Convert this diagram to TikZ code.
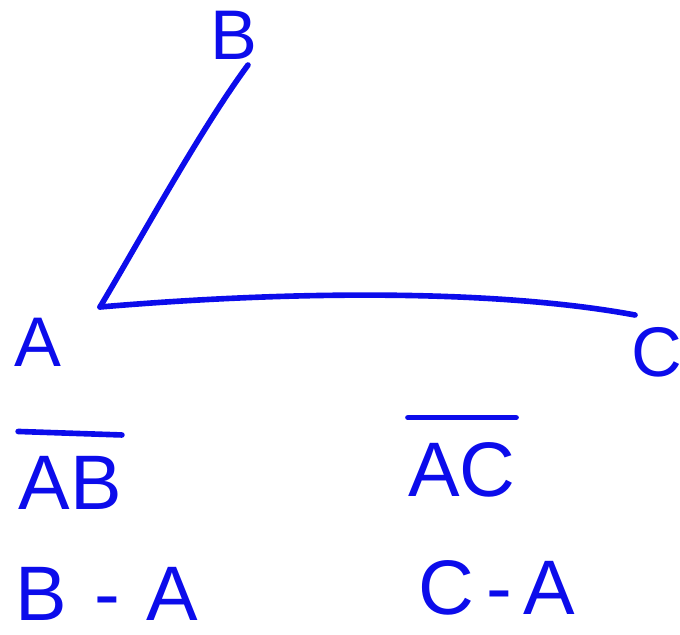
\documentclass[tikz,border=0pt]{standalone}
\usepackage{fontspec}
\setmainfont{Liberation Sans}
\usetikzlibrary{positioning}
\definecolor{inkblue}{RGB}{12,12,235}

\begin{document}
\begin{tikzpicture}[
  x=0.02cm, y=-0.02cm,
  stroke/.style={draw=inkblue, line width=3.2pt, line cap=round, line join=round},
  pt/.style={text=inkblue, font=\fontsize{40}{44}\selectfont, inner sep=0pt},
  note/.style={text=inkblue, font=\fontsize{44}{48}\selectfont, inner sep=0pt}
]
  \useasboundingbox (0,0) rectangle (680,635);

  \coordinate (vA) at (100,307);
  \coordinate (eB) at (248,65);
  \coordinate (eC) at (635,315);

  \node[pt] (lB) at (234,35) {B};
  \node[pt] (lA) at (38,342) {A};
  \node[pt] (lC) at (657,352) {C};

  \draw[stroke] (vA) .. controls (140,240) and (200,130) .. (eB);
  \draw[stroke] (vA) .. controls (300,290) and (500,290) .. (eC);

  % segment names
  \node[note] (segAB) at (70,483) {AB};
  \node[note] (segAC) at (462,470) {AC};
  \draw[stroke] ([yshift=14pt]segAB.north west) -- ([yshift=12pt]segAB.north east);
  \draw[stroke] ([yshift=14pt]segAC.north west) -- ([yshift=14pt]segAC.north east);

  % as differences
  \node[note] (difB) at (107,594) {B\hspace{0.35em}-\hspace{0.35em}A};
  \node[note] (difC) at (497,588) {C\hspace{0.15em}-\hspace{0.15em}A};
\end{tikzpicture}
\end{document}
